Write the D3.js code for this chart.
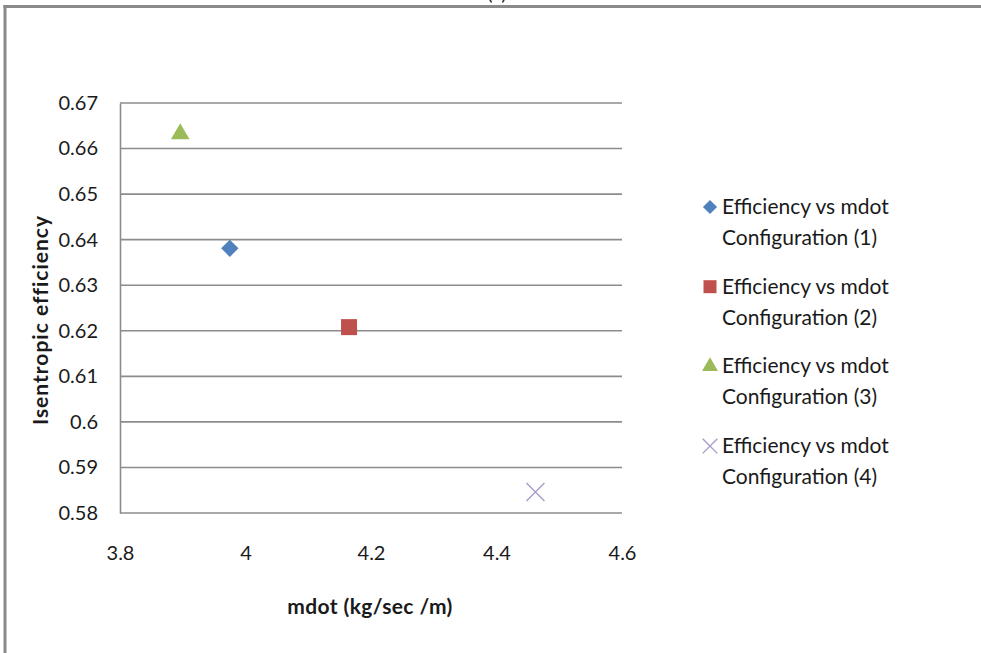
<!DOCTYPE html>
<html>
<head>
<meta charset="utf-8">
<script src="https://cdn.jsdelivr.net/npm/d3@7"></script>
<style>
  body { margin: 0; background: #fff; }
  svg { display: block; font-family: Lato, "Open Sans", sans-serif; }
</style>
</head>
<body>
<div id="chart"></div>
<script>
// data
const seriesNames = [
  ["Efficiency vs mdot", "Configuration (1)"],
  ["Efficiency vs mdot", "Configuration (2)"],
  ["Efficiency vs mdot", "Configuration (3)"],
  ["Efficiency vs mdot", "Configuration (4)"]
]
const mdotValues = [3.975, 4.165, 3.896, 4.462]
const efficiencyValues = [0.6381, 0.6208, 0.6632, 0.5846]
const xTicks = [3.8, 4.0, 4.2, 4.4, 4.6]
const yTicks = [0.58, 0.59, 0.60, 0.61, 0.62, 0.63, 0.64, 0.65, 0.66, 0.67]
const colors = ["#4f81bd", "#c0504d", "#9bbb59", "#8064a2"]

const width = 981
const height = 653
const margin = {top: 103, right: 359, bottom: 140, left: 120}
const innerWidth = width - margin.left - margin.right
const innerHeight = height - margin.top - margin.bottom

const svg = d3.select("#chart").append("svg")
              .attr("width", width)
              .attr("height", height)

// outer frame: only the top and left edges show
svg.append("line")
   .attr("x1", 3.5).attr("x2", width)
   .attr("y1", 6.5).attr("y2", 6.5)
   .attr("stroke", "#8a8a8a")
   .attr("stroke-width", 3)
svg.append("line")
   .attr("x1", 5).attr("x2", 5)
   .attr("y1", 5).attr("y2", height)
   .attr("stroke", "#8a8a8a")
   .attr("stroke-width", 3)

// caption, mostly above the top of the picture
svg.append("text")
   .attr("x", 497)
   .attr("y", 0)
   .attr("text-anchor", "middle")
   .attr("font-size", 20)
   .attr("fill", "#222")
   .text("(c)")

const chart = svg.append("g")
                 .attr("transform", `translate(${margin.left}, ${margin.top})`)

// scales
const xScale = d3.scaleLinear()
                 .domain([3.8, 4.6])
                 .range([0, innerWidth])
const yScale = d3.scaleLinear()
                 .domain([0.58, 0.67])
                 .range([innerHeight, 0])

// gridlines
chart.append("g")
     .selectAll("line")
     .data(yTicks)
     .join("line")
     .attr("x1", 0)
     .attr("x2", innerWidth)
     .attr("y1", d => yScale(d))
     .attr("y2", d => yScale(d))
     .attr("stroke", "#8c8c8c")
     .attr("stroke-width", 1.6)

// y axis
const yAxis = d3.axisLeft(yScale)
                .tickValues(yTicks)
                .tickSize(0)
                .tickPadding(22)
                .tickFormat(d => String(+d.toFixed(2)))
chart.append("g")
     .call(yAxis)
     .attr("font-family", "Lato, sans-serif")
     .attr("font-size", 20)
     .call(g => g.select(".domain").attr("stroke", "#8c8c8c").attr("stroke-width", 1.6))
     .call(g => g.selectAll("text").attr("fill", "#1a1a1a"))

// x axis (labels only)
const xAxis = d3.axisBottom(xScale)
                .tickValues(xTicks)
                .tickSize(0)
                .tickPadding(33)
                .tickFormat(d => String(+d.toFixed(1)))
chart.append("g")
     .attr("transform", `translate(0, ${innerHeight})`)
     .call(xAxis)
     .attr("font-family", "Lato, sans-serif")
     .attr("font-size", 20)
     .call(g => g.select(".domain").remove())
     .call(g => g.selectAll("text").attr("fill", "#1a1a1a"))

// axis titles
svg.append("text")
   .attr("x", margin.left + innerWidth / 2 - 1)
   .attr("y", 614)
   .attr("text-anchor", "middle")
   .attr("font-size", 21)
   .attr("font-weight", "bold")
   .attr("letter-spacing", 0.4)
   .attr("fill", "#1a1a1a")
   .text("mdot  (kg/sec /m)")
svg.append("text")
   .attr("transform", `translate(48, ${margin.top + 217}) rotate(-90)`)
   .attr("text-anchor", "middle")
   .attr("font-size", 21)
   .attr("font-weight", "bold")
   .attr("letter-spacing", 1)
   .attr("fill", "#1a1a1a")
   .text("Isentropic  efficiency")

// marker shapes
const symbolTypes = [d3.symbolSquare, d3.symbolSquare, d3.symbolTriangle, d3.symbolTimes]
const symbolRotate = [45, 0, 0, 0]
const plotSizes = [150, 256, 150, 215]
const legendSizes = [100, 169, 110, 140]

function drawMarker(sel, i, size) {
    sel.attr("d", d3.symbol().type(symbolTypes[i]).size(size)())
       .attr("fill", i === 3 ? "none" : colors[i])
       .attr("stroke", i === 3 ? "#a99bc9" : "none")
       .attr("stroke-width", 1.4)
}

// points
mdotValues.forEach((x, i) => {
    chart.append("path")
         .attr("transform", `translate(${xScale(x)}, ${yScale(efficiencyValues[i])}) rotate(${symbolRotate[i]})`)
         .call(drawMarker, i, plotSizes[i])
})

// legend
const legend = svg.append("g")
                  .attr("transform", "translate(710, 207)")
seriesNames.forEach((lines, i) => {
    const row = legend.append("g")
                      .attr("transform", `translate(0, ${i * 79.7})`)
    row.append("path")
       .attr("transform", `rotate(${symbolRotate[i]})`)
       .call(drawMarker, i, legendSizes[i])
    lines.forEach((t, j) => {
        row.append("text")
           .attr("x", 12)
           .attr("y", j * 31 + 7)
           .attr("font-size", 21)
           .attr("fill", "#1a1a1a")
           .text(t)
    })
})
</script>
</body>
</html>
